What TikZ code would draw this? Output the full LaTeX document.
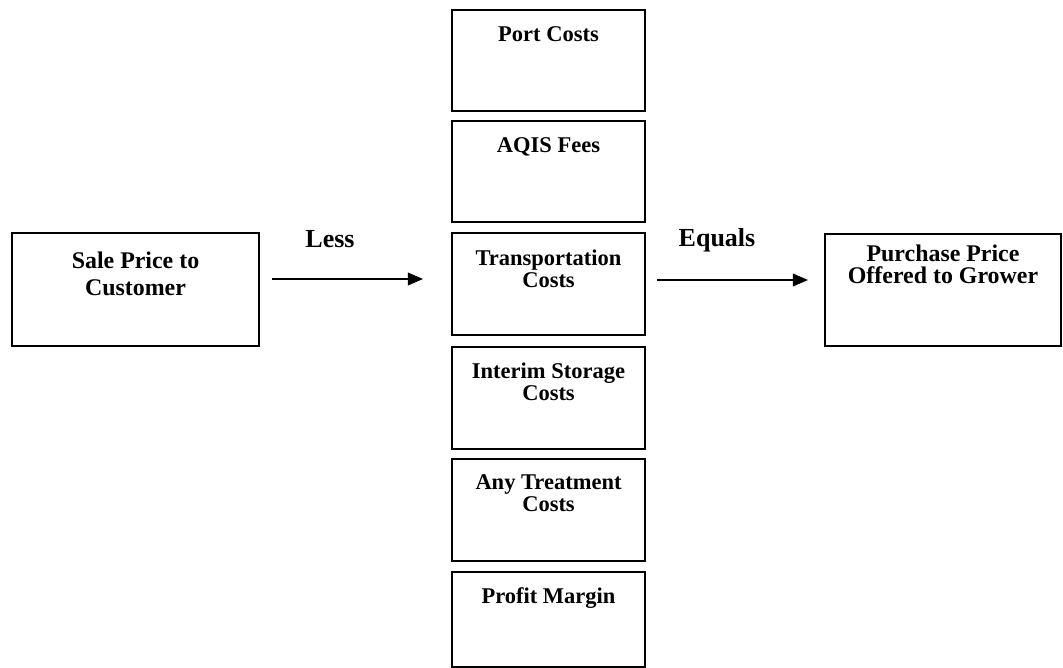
\documentclass[tikz,border=0pt]{standalone}
\usepackage{fontspec}
\setmainfont{Liberation Serif}
\usetikzlibrary{arrows.meta,positioning}

\begin{document}
\begin{tikzpicture}[x=0.025cm, y=-0.025cm,
  box/.style={draw, line width=1.1pt, minimum width=4.825cm, inner sep=0pt},
  txt/.style={inner sep=0pt, align=center, font=\fontsize{16}{15.7}\selectfont\bfseries},
  word/.style={inner sep=0pt, anchor=base, font=\fontsize{18.5}{20}\selectfont\bfseries},
  arr/.style={-{Triangle[length=3.8mm, width=3.2mm]}, line width=0.9pt}
]
  \useasboundingbox (0,0) rectangle (1063,668);

  \node[box, minimum width=6.175cm, minimum height=2.825cm] (sale) at (135.5,289.5) {};
  \node[box, minimum width=5.9cm, minimum height=2.8cm] (buy) at (943,290) {};

  % cost column
  \node[box, minimum height=2.525cm] (port) at (548.5,60.5) {};
  \node[box, minimum height=2.525cm] (aqis) at (548.5,171.5) {};
  \node[box, minimum height=2.55cm] (trans) at (548.5,284) {};
  \node[box, minimum height=2.55cm] (store) at (548.5,398) {};
  \node[box, minimum height=2.55cm] (treat) at (548.5,510) {};
  \node[box, minimum height=2.375cm] (profit) at (548.5,619.5) {};

  \node[txt, font=\fontsize{17}{19.2}\selectfont\bfseries, below=0.475cm of sale.north] (saleT) {Sale Price to\\ Customer};
  \node[txt, font=\fontsize{17}{15.7}\selectfont\bfseries, below=0.275cm of buy.north] (buyT) {Purchase Price\\ Offered to Grower};
  \node[txt, below=0.425cm of port.north] (portT) {Port Costs};
  \node[txt, below=0.425cm of aqis.north] (aqisT) {AQIS Fees};
  \node[txt, below=0.425cm of trans.north] (transT) {Transportation\\ Costs};
  \node[txt, below=0.4cm of store.north] (storeT) {Interim Storage\\ Costs};
  \node[txt, below=0.4cm of treat.north] (treatT) {Any Treatment\\ Costs};
  \node[txt, below=0.4cm of profit.north] (profitT) {Profit Margin};

  \node[word] (less) at (330,248) {Less};
  \node[word] (equals) at (717,247) {Equals};

  \coordinate (lessA) at (272,279);
  \coordinate (lessB) at (423,279);
  \coordinate (eqA) at (657,280);
  \coordinate (eqB) at (808,280);

  \draw[arr] (lessA) -- (lessB);
  \draw[arr] (eqA) -- (eqB);
\end{tikzpicture}
\end{document}
